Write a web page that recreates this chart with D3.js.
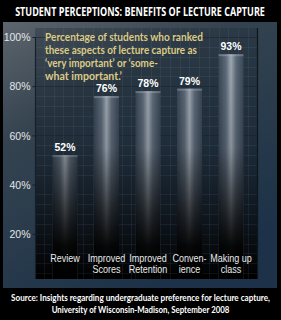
<!DOCTYPE html>
<html><head><meta charset="utf-8">
<script src="https://cdn.jsdelivr.net/npm/d3@7"></script>
<style>html,body{margin:0;padding:0;background:#000;}svg{display:block;}</style>
</head><body>
<script>
const categories = [["Review"], ["Improved","Scores"], ["Improved","Retention"], ["Conven-","ience"], ["Making up","class"]];
const values = [52, 76, 78, 79, 93];
const yTicks = [20, 40, 60, 80, 100];
const title = "STUDENT PERCEPTIONS: BENEFITS OF LECTURE CAPTURE";
const note = ["Percentage of students who ranked", "these aspects of lecture capture as", "\u2018very important\u2019 or \u2018some-", "what important.\u2019"];
const source = ["Source:  Insights regarding undergraduate preference for lecture capture,", "University of Wisconsin-Madison, September 2008"];

const W = 281, H = 320;
const svg = d3.select("body").append("svg").attr("width", W).attr("height", H);
const defs = svg.append("defs");

// place text at (x,y) and squeeze horizontally to a target width
function fit(sel, x, y, width, anchor) {
  const natural = sel.node().getComputedTextLength();
  const k = Math.min(1, width / natural);
  sel.attr("text-anchor", anchor).attr("transform", "translate(" + x + "," + y + ") scale(" + k + ",1)");
  return sel;
}

const bg = defs.append("linearGradient").attr("id","bg").attr("x1",0).attr("y1",0).attr("x2",0.55).attr("y2",1);
bg.append("stop").attr("offset",0).attr("stop-color","#5d656d");
bg.append("stop").attr("offset",0.35).attr("stop-color","#34434f");
bg.append("stop").attr("offset",1).attr("stop-color","#1d3248");

const pg = defs.append("linearGradient").attr("id","pg").attr("x1",0).attr("y1",0).attr("x2",0).attr("y2",1);
pg.append("stop").attr("offset",0).attr("stop-color","#1e2a36").attr("stop-opacity",0.35);
pg.append("stop").attr("offset",0.45).attr("stop-color","#1a2632").attr("stop-opacity",0.7);
pg.append("stop").attr("offset",1).attr("stop-color","#000").attr("stop-opacity",1);

const bh = defs.append("linearGradient").attr("id","bh").attr("x1",0).attr("y1",0).attr("x2",1).attr("y2",0);
[[0,"#3b4857"],[0.3,"#5f6d7c"],[0.5,"#a3adb8"],[0.7,"#5f6d7c"],[1,"#3b4857"]].forEach(s=>bh.append("stop").attr("offset",s[0]).attr("stop-color",s[1]));

const y = d3.scaleLinear().domain([0,100]).range([283,37]);
const x = d3.scalePoint().domain(d3.range(values.length)).range([65,231]);
const bw = 25;

const fade = defs.append("linearGradient").attr("id","fade").attr("gradientUnits","userSpaceOnUse")
  .attr("x1",0).attr("y1",y(100)).attr("x2",0).attr("y2",y(0));
fade.append("stop").attr("offset",0).attr("stop-color","#000").attr("stop-opacity",0);
fade.append("stop").attr("offset",0.45).attr("stop-color","#000").attr("stop-opacity",0.15);
fade.append("stop").attr("offset",0.85).attr("stop-color","#000").attr("stop-opacity",0.95);
fade.append("stop").attr("offset",1).attr("stop-color","#000").attr("stop-opacity",1);

// frame
svg.append("rect").attr("width",W).attr("height",H).attr("fill","#000");
svg.append("rect").attr("x",3).attr("y",22).attr("width",274).attr("height",266).attr("fill","url(#bg)");

// plot area
const px0 = 35, px1 = 257, py0 = 28, py1 = 279;
svg.append("rect").attr("x",px0).attr("y",py0).attr("width",px1-px0).attr("height",py1-py0).attr("fill","url(#pg)");

// grid
const grid = svg.append("g").attr("stroke","#8fa3b8").attr("stroke-opacity",0.09).attr("stroke-width",1);
for (let v = 0; v <= 100; v += 4) {
  if (y(v) > py1) continue;
  grid.append("line").attr("x1",px0).attr("x2",px1).attr("y1",Math.round(y(v))+0.5).attr("y2",Math.round(y(v))+0.5);
}
for (let gx = px0 + 9; gx < px1; gx += 9.7) {
  grid.append("line").attr("x1",Math.round(gx)+0.5).attr("x2",Math.round(gx)+0.5).attr("y1",py0).attr("y2",py1);
}
svg.append("g").selectAll("line").data(yTicks).join("line")
  .attr("x1",px0).attr("x2",px1).attr("y1",d=>Math.round(y(d))+0.5).attr("y2",d=>Math.round(y(d))+0.5)
  .attr("stroke","#0e1620").attr("stroke-opacity",0.5);

// bars
const bars = svg.append("g");
bars.selectAll("rect.b").data(values).join("rect").attr("class","b")
  .attr("x",(d,i)=>x(i)-bw/2).attr("width",bw).attr("y",d=>y(d)).attr("height",d=>py1-y(d)).attr("fill","url(#bh)");
bars.selectAll("rect.c").data(values).join("rect").attr("class","c")
  .attr("x",(d,i)=>x(i)-bw/2).attr("width",bw).attr("y",d=>y(d)).attr("height",2).attr("fill","#c0c8d0").attr("opacity",0.35);
bars.selectAll("rect.f").data(values).join("rect").attr("class","f")
  .attr("x",(d,i)=>x(i)-bw/2).attr("width",bw).attr("y",d=>y(d)).attr("height",d=>py1-y(d)).attr("fill","url(#fade)");

// axis
const yAxis = d3.axisLeft(y).tickValues(yTicks).tickFormat(d=>d+"%").tickSize(3).tickPadding(2);
const ga = svg.append("g").attr("transform","translate(" + (px0+0.5) + ",0)").call(yAxis);
ga.select(".domain").attr("d","M0," + y(100) + "V" + py1).attr("stroke","#15202a").attr("stroke-width",1.2);
ga.selectAll(".tick line").attr("stroke","#15202a");
ga.selectAll(".tick text").attr("fill","#e4e6e8").attr("font-family","Liberation Sans, Arial, sans-serif").attr("font-size",10.5).attr("dy","0.35em");
svg.append("line").attr("x1",px1+0.5).attr("x2",px1+0.5).attr("y1",py0).attr("y2",py1).attr("stroke","#0d151d").attr("stroke-width",1.2);

// value labels
const vg = svg.append("g").attr("font-family","Liberation Sans, Arial, sans-serif").attr("font-weight","bold").attr("font-size",11.5).attr("fill","#fff");
values.forEach((d,i)=>{
  fit(vg.append("text").text(d+"%"), x(i), y(d)-4, 21, "middle");
});

// category labels
const cg = svg.append("g").attr("font-family","Liberation Sans, Arial, sans-serif").attr("font-size",10.5).attr("fill","#e8eaec");
categories.forEach((lines,i)=>{
  lines.forEach((t,j)=>{
    const el = cg.append("text").text(t);
    const nat = el.node().getComputedTextLength();
    fit(el, x(i), 262 + j*11, nat*0.86, "middle");
  });
});

// title
fit(svg.append("text").attr("font-family","Open Sans, Noto Sans, sans-serif").attr("font-weight","bold").attr("font-size",11.5)
  .attr("fill","#fff").text(title), 140, 16, 250, "middle");

// note
const noteW = [158,152,113,77];
const ng = svg.append("g").attr("font-family","Lato, Liberation Sans, sans-serif").attr("font-weight",700).attr("font-size",10.8).attr("fill","#dccb86");
note.forEach((t,i)=>{
  fit(ng.append("text").text(t), 45, 41 + i*13, noteW[i], "start");
});

// source
const srcW = [259,178];
const sg = svg.append("g").attr("font-family","Lato, Liberation Sans, sans-serif").attr("font-weight",700).attr("font-size",9.8).attr("fill","#fff");
source.forEach((t,i)=>{
  fit(sg.append("text").text(t), 140.5, 301 + i*12, srcW[i], "middle");
});
</script>
</body></html>
